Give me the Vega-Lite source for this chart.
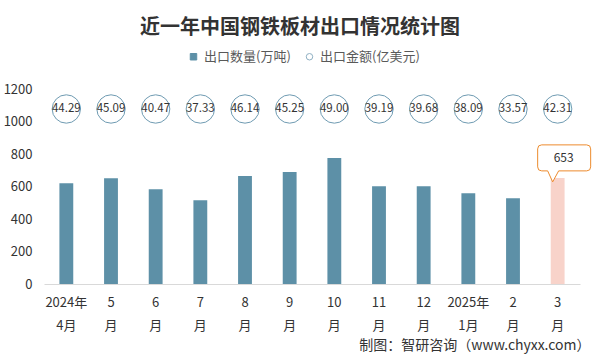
{
  "$schema": "https://vega.github.io/schema/vega-lite/v6.json",
  "width": 536,
  "height": 195,
  "autosize": {"type": "none"},
  "padding": {"left": 44, "top": 89, "right": 22, "bottom": 72},
  "background": "white",
  "config": {
    "font": "Noto Sans CJK SC",
    "view": {"stroke": null},
    "axisY": {"labelOverlap": false, "labelBound": false}
  },
  "title": {
    "text": "近一年中国钢铁板材出口情况统计图",
    "fontSize": 20,
    "fontWeight": "bold",
    "color": "#333333",
    "anchor": "middle",
    "frame": "group",
    "dx": -12,
    "offset": 12
  },
  "data": {
    "values": [
      {"month": "2024年|4月", "quantity": 620, "amount": 44.29},
      {"month": "5|月", "quantity": 651, "amount": 45.09},
      {"month": "6|月", "quantity": 583, "amount": 40.47},
      {"month": "7|月", "quantity": 515, "amount": 37.33},
      {"month": "8|月", "quantity": 664, "amount": 46.14},
      {"month": "9|月", "quantity": 689, "amount": 45.25},
      {"month": "10|月", "quantity": 775, "amount": 49.00},
      {"month": "11|月", "quantity": 602, "amount": 39.19},
      {"month": "12|月", "quantity": 602, "amount": 39.68},
      {"month": "2025年|1月", "quantity": 558, "amount": 38.09},
      {"month": "2|月", "quantity": 527, "amount": 33.57},
      {"month": "3|月", "quantity": 653, "amount": 42.31}
    ]
  },
  "encoding": {
    "x": {
      "field": "month",
      "type": "nominal",
      "sort": null,
      "scale": {"paddingInner": 0, "paddingOuter": 0},
      "axis": {
        "title": "制图：智研咨询（www.chyxx.com）",
        "titleFontSize": 14,
        "titleFontWeight": "normal",
        "titleColor": "#333333",
        "titleAnchor": "end",
        "titleAlign": "right",
        "titleBaseline": "middle",
        "titleX": 546,
        "titleY": 61,
        "labelAngle": 0,
        "labelExpr": "split(datum.value, '|')",
        "labelFontSize": 13,
        "labelColor": "#333333",
        "labelBaseline": "top",
        "labelLineHeight": 23,
        "labelPadding": 12,
        "ticks": false,
        "domainColor": "#D9D9D9",
        "domainWidth": 1
      }
    },
    "y": {
      "field": "quantity",
      "type": "quantitative",
      "scale": {"domain": [0, 1200]},
      "axis": {
        "title": null,
        "values": [0, 200, 400, 600, 800, 1000, 1200],
        "format": "d",
        "labelOverlap": false,
        "grid": false,
        "domain": false,
        "ticks": false,
        "labelFontSize": 13,
        "labelColor": "#333333",
        "labelPadding": 12
      }
    }
  },
  "layer": [
    {
      "mark": {"type": "bar", "width": {"band": 0.31}},
      "encoding": {
        "color": {
          "condition": {"test": "datum.month === '3|月'", "value": "#F8D3CA"},
          "datum": "出口数量(万吨)",
          "type": "nominal",
          "scale": {"domain": ["出口数量(万吨)", "出口金额(亿美元)"], "range": ["#5D90A7", "#FFFFFF"]},
          "legend": {
            "orient": "none",
            "legendX": 143,
            "legendY": -39,
            "direction": "horizontal",
            "title": null,
            "labelFontSize": 13,
            "labelColor": "#595959",
            "symbolSize": 42,
            "symbolStrokeColor": "#8FB0C3",
            "symbolStrokeWidth": 1,
            "labelOffset": 4,
            "columnPadding": 12,
            "encode": {
              "symbols": {
                "update": {
                  "shape": {"signal": "datum.value === '出口数量(万吨)' ? 'square' : 'circle'"},
                  "stroke": {"signal": "datum.value === '出口数量(万吨)' ? '#5D90A7' : '#8FB0C3'"},
                  "strokeWidth": {"value": 1}
                }
              }
            }
          }
        }
      }
    },
    {
      "transform": [{"filter": "datum.month === '3|月'"}],
      "mark": {
        "type": "point",
        "shape": "M -1.6 -3.3 H 2.9 Q 3.3 -3.3 3.3 -2.9 V -1.1 Q 3.3 -0.7 2.9 -0.7 H 0.1 L -0.5 0.4 L -1.0 -0.7 H -1.6 Q -2.0 -0.7 -2.0 -1.1 V -2.9 Q -2.0 -3.3 -1.6 -3.3 Z",
        "size": 400,
        "filled": true,
        "fill": "white",
        "fillOpacity": 1,
        "opacity": 1,
        "stroke": "#ED8B2D",
        "strokeWidth": 1
      }
    },
    {
      "transform": [{"filter": "datum.month === '3|月'"}],
      "mark": {"type": "text", "dx": 6, "dy": -20, "fontSize": 12, "color": "#333333"},
      "encoding": {
        "text": {"field": "quantity", "type": "quantitative"}
      }
    },
    {
      "mark": {"type": "point", "filled": false, "size": 804, "strokeWidth": 1, "stroke": "#6F9BB2", "opacity": 1},
      "encoding": {
        "y": {"datum": 1077, "type": "quantitative"}
      }
    },
    {
      "mark": {"type": "text", "fontSize": 11.5, "color": "#333333"},
      "encoding": {
        "y": {"datum": 1077, "type": "quantitative"},
        "text": {"field": "amount", "type": "quantitative", "format": ".2f"}
      }
    }
  ]
}
